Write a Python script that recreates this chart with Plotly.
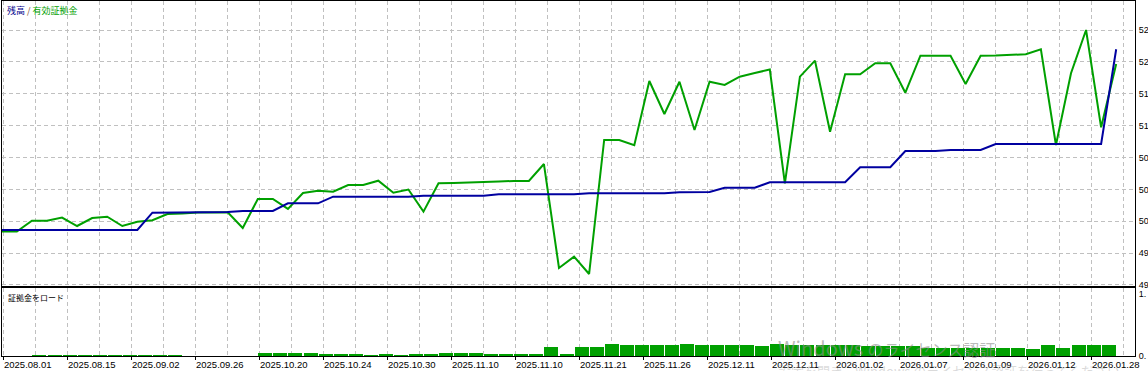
import plotly.graph_objects as go

# ---- data ----
deal = list(range(75))

equity = [4987, 4987, 5000.7, 5000.7, 5004.5, 4994, 5004, 5005.7, 4994, 4999.4,
          5001.2, 5009.1, 5009.7, 5011, 5011, 5011.2, 4991.5, 5027.9, 5027.9, 5015.4,
          5035.5, 5038.3, 5037.1, 5045.5, 5045.5, 5050.9, 5035.8, 5039.8, 5012, 5047.6,
          5048, 5048.9, 5049.3, 5049.9, 5050.5, 5050.5, 5071.8, 4941.3, 4955.5, 4933.8,
          5102, 5102, 5095.3, 5176, 5134.6, 5175.1, 5114.5, 5175.1, 5171, 5181.4,
          5186, 5190.4, 5047.6, 5181.4, 5201.5, 5112.4, 5184.4, 5184.4, 5198.2, 5198.2,
          5161.3, 5207.7, 5207.7, 5207.7, 5172.2, 5207.7, 5208, 5208.6, 5209.5, 5215.8,
          5095.7, 5185.7, 5240, 5117.9, 5197.3]

balance = [4989, 4989, 4989, 4989, 4989, 4989, 4989, 4989, 4989, 4989,
           5010.7, 5011, 5011, 5011.6, 5011.6, 5011.6, 5012.9, 5012.9, 5012.9, 5022.5,
           5022.5, 5022.5, 5030.8, 5030.8, 5030.8, 5030.8, 5030.8, 5030.8, 5032.1, 5032.1,
           5032.1, 5032.1, 5032.1, 5033.8, 5033.8, 5033.8, 5033.8, 5033.8, 5033.8, 5035.1,
           5035.1, 5035.1, 5035.1, 5035.1, 5035.1, 5036.3, 5036.3, 5036.7, 5042.1, 5042.1,
           5042.1, 5048.9, 5048.9, 5048.9, 5048.9, 5048.9, 5048.9, 5067.7, 5067.7, 5067.7,
           5088.2, 5088.2, 5088.2, 5089.4, 5089.4, 5089.4, 5096.9, 5096.9, 5096.9, 5096.9,
           5096.9, 5096.9, 5096.9, 5096.9, 5215.8]

margin_load = [0, 0, 0.016, 0.016, 0.016, 0.016, 0.016, 0.016, 0.016, 0.016,
               0.016, 0.016, 0, 0, 0, 0, 0, 0.053, 0.053, 0.053,
               0.053, 0.032, 0.032, 0.032, 0.016, 0.032, 0.016, 0.032, 0.032, 0.048,
               0.048, 0.048, 0.032, 0.032, 0.032, 0.032, 0.15, 0.032, 0.15, 0.15,
               0.194, 0.177, 0.177, 0.177, 0.177, 0.194, 0.177, 0.177, 0.177, 0.177,
               0.161, 0.194, 0.177, 0.177, 0.177, 0.177, 0.177, 0.161, 0.161, 0.161,
               0.161, 0.134, 0.134, 0.134, 0.134, 0.134, 0.134, 0.134, 0.113, 0.177,
               0.134, 0.177, 0.177, 0.177]
bar_slot = list(range(len(margin_load)))

date_labels = ["2025.08.01", "2025.08.15", "2025.09.02", "2025.09.26", "2025.10.20",
               "2025.10.24", "2025.10.30", "2025.11.10", "2025.11.10", "2025.11.21",
               "2025.11.26", "2025.12.11", "2025.12.11", "2026.01.02", "2026.01.07",
               "2026.01.09", "2026.01.12", "2026.01.28"]

# right-axis labels are cut by the window edge in the reference: only the first
# characters are visible
y_ticks = [4920, 4960, 5000, 5040, 5080, 5120, 5160, 5200, 5240]
y_text = ["49", "49", "50", "50", "50", "51", "51", "52", "52"]
y2_ticks = [0, 1]
y2_text = ["0.", "1."]

# ---- layout helpers (positions / styles) ----
W, H = 1148, 371
GREEN = "#00A000"
BLUE = "#0000A0"
GRID = "#C0C0C0"
DASH = "4px,3px"
FONT = "Liberation Sans"

tick0, tick_step = 0.08, 4.25
label_pos = [tick0 + tick_step * i for i in range(len(date_labels))]
minor_pos = [tick0 + tick_step / 2 + tick_step * i for i in range(len(date_labels))]
xrange = [0.013, 75.25]
xdom = [2 / W, 1135 / W]

fig = go.Figure()
fig.add_trace(go.Scatter(x=deal, y=equity, mode="lines", line=dict(color=GREEN, width=2),
                         xaxis="x", yaxis="y", hoverinfo="skip"))
fig.add_trace(go.Scatter(x=deal, y=balance, mode="lines", line=dict(color=BLUE, width=2),
                         xaxis="x", yaxis="y", hoverinfo="skip"))
fig.add_trace(go.Bar(x=[s + 0.5 for s in bar_slot], y=margin_load, width=0.93,
                     marker=dict(color=GREEN, line=dict(width=0)),
                     xaxis="x2", yaxis="y2", hoverinfo="skip"))

common_x = dict(domain=xdom, range=xrange, showline=True, mirror=True, linecolor="black",
                linewidth=1, zeroline=False, showgrid=True, gridcolor=GRID, griddash=DASH,
                gridwidth=1, tickmode="array", tickvals=label_pos, automargin=False,
                minor=dict(tickvals=minor_pos, showgrid=True, gridcolor=GRID, griddash=DASH,
                           gridwidth=1, ticks=""))

fig.update_layout(
    width=W, height=H, margin=dict(l=0, r=0, t=0, b=0, autoexpand=False),
    paper_bgcolor="white", plot_bgcolor="white", showlegend=False,
    font=dict(family=FONT, size=9.5, color="black"),
    bargap=0,
    xaxis=dict(**common_x, anchor="y", showticklabels=False, ticks=""),
    xaxis2=dict(**common_x, anchor="y2", matches="x", ticktext=date_labels,
                showticklabels=True, ticks="outside", ticklen=3, tickcolor="black",
                ticklabelposition="outside right",
                tickfont=dict(family=FONT, size=9.5, color="black")),
    yaxis=dict(domain=[1 - 286 / H, 1 - 1 / H], range=[4918.7, 5276.4], side="right",
               anchor="x", tickmode="array", tickvals=y_ticks, automargin=False,
               ticktext=y_text, showgrid=True, gridcolor=GRID,
               griddash=DASH, gridwidth=1, showline=True, mirror=True, linecolor="black",
               linewidth=1, zeroline=False, ticks="", ticklabelstandoff=1,
               tickfont=dict(family=FONT, size=9, color="black")),
    yaxis2=dict(domain=[1 - 356 / H, 1 - 288 / H], range=[0, 1.097], side="right",
                anchor="x2", tickmode="array", tickvals=y2_ticks, ticktext=y2_text,
                automargin=False,
                showgrid=False, showline=True, mirror=True, linecolor="black",
                linewidth=1, zeroline=False, ticks="", ticklabelstandoff=1,
                tickfont=dict(family=FONT, size=9, color="black")),
)

fig.add_annotation(xref="paper", yref="paper", x=5 / W, y=1 - 11 / H,
                   xanchor="left", yanchor="middle", showarrow=False,
                   text='<span style="color:#00008B">残高</span>'
                        '<span style="color:#805030"> / </span>'
                        '<span style="color:#00A000">有効証拠金</span>',
                   font=dict(family="Noto Sans CJK JP", size=9))
fig.add_annotation(xref="paper", yref="paper", x=6 / W, y=1 - 297 / H,
                   xanchor="left", yanchor="middle", showarrow=False,
                   text="証拠金をロード",
                   font=dict(family="Noto Sans CJK JP", size=8, color="black"))
# OS activation watermark visible over the screenshot
fig.add_annotation(xref="paper", yref="paper", x=776 / W, y=1 - 347 / H,
                   xanchor="left", yanchor="middle", showarrow=False,
                   text='Windows <span style="font-size:16px">のライセンス認証</span>',
                   font=dict(family="Noto Sans CJK JP", size=20,
                             color="rgba(140,140,140,0.6)"))
fig.add_annotation(xref="paper", yref="paper", x=776 / W, y=1 - 370 / H,
                   xanchor="left", yanchor="middle", showarrow=False,
                   text="設定を開き、Windows のライセンス認証を行ってください。",
                   font=dict(family="Noto Sans CJK JP", size=13,
                             color="rgba(150,150,150,0.35)"))

fig.write_html("out.html")
